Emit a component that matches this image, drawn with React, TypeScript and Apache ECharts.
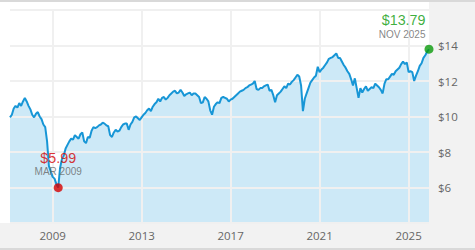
import React, { useEffect, useRef } from 'react';
import * as echarts from 'echarts';

// Monthly closing values, starting January 2007
const startYear = 2007;
const navValues: number[] = [
  // 2007
  9.95, 10.1, 10.45, 10.6, 10.5, 10.75, 10.6, 10.85, 11.05, 10.85, 10.6, 10.4,
  // 2008
  10.1, 9.95, 10.15, 10.25, 10.0, 9.85, 9.55, 9.4, 8.6, 7.2, 6.9, 6.6,
  // 2009
  6.5, 6.2, 5.99, 7.1, 7.6, 7.8, 8.2, 8.4, 8.6, 8.75, 8.7, 8.95,
  // 2010
  8.85, 8.75, 9.0, 9.1, 8.6, 8.5, 8.85, 8.8, 9.2, 9.4, 9.35, 9.4,
  // 2011
  9.5, 9.55, 9.65, 9.6, 9.5, 9.45, 8.95, 8.85, 9.1, 9.25, 9.15, 9.2,
  // 2012
  9.4, 9.55, 9.6, 9.6, 9.25, 9.55, 9.7, 9.95, 10.0, 9.9, 9.8, 9.95,
  // 2013
  10.1, 10.2, 10.35, 10.45, 10.3, 10.55, 10.7, 10.8, 11.0, 10.85, 11.05, 11.1,
  // 2014
  10.95, 11.05, 11.2, 11.3, 11.4, 11.45, 11.3, 11.35, 11.5, 11.35, 11.15, 11.25,
  // 2015
  11.3, 11.35, 11.2, 11.3, 11.3, 11.2, 11.1, 10.75, 10.8, 11.1, 11.0, 10.85,
  // 2016
  10.35, 10.1, 10.55, 10.7, 10.8, 10.75, 11.05, 11.1, 11.05, 11.0, 10.85, 10.95,
  // 2017
  11.0, 11.1, 11.2, 11.3, 11.4, 11.45, 11.5, 11.6, 11.65, 11.75, 11.8, 11.85,
  // 2018
  12.0, 11.55, 11.5, 11.6, 11.6, 11.7, 11.75, 11.8, 11.45, 11.5, 11.2, 10.8,
  // 2019
  11.2, 11.3, 11.4, 11.55, 11.7, 11.6, 11.85, 11.8, 11.95, 12.05, 12.2, 12.35,
  // 2020
  12.25, 11.75, 10.3, 11.0, 11.3, 11.6, 11.9, 12.05, 12.2, 12.3, 12.8, 12.5,
  // 2021
  12.65, 12.75, 12.9, 13.05, 13.25, 13.3, 13.35, 13.45, 13.55, 13.3, 13.3, 13.1,
  // 2022
  12.9, 12.75, 12.55, 12.4, 12.1, 11.75, 12.15, 11.6, 11.05, 11.6, 11.35, 11.55,
  // 2023
  11.7, 11.45, 11.55, 11.65, 11.6, 11.85, 11.75, 11.65, 11.5, 11.3, 11.85, 12.1,
  // 2024
  12.1, 12.25, 12.4, 12.35, 12.55, 12.65, 12.75, 12.95, 13.1, 12.95, 13.05, 12.5,
  // 2025
  12.55, 12.5, 12.0, 12.3, 12.55, 12.85, 13.0, 13.3, 13.45, 13.65, 13.79,
];

const yearTicks = [2009, 2013, 2017, 2021, 2025];
const priceMin = 4;
const priceMax = 16;
const priceStep = 2;
const monthNames = ['JAN', 'FEB', 'MAR', 'APR', 'MAY', 'JUN', 'JUL', 'AUG', 'SEP', 'OCT', 'NOV', 'DEC'];

const FONT = '"Open Sans", "Noto Sans", sans-serif';
const LABEL_FONT = '"Liberation Sans", Arial, sans-serif';

const xOf = (i: number) => startYear + (i + 1) / 12;
const dateLabel = (i: number) => `${monthNames[i % 12]} ${startYear + Math.floor(i / 12)}`;

export default function App() {
  const ref = useRef<HTMLDivElement>(null);

  useEffect(() => {
    document.body.style.margin = '0';
    const chart = echarts.init(ref.current!, null, { renderer: 'svg' });

    const seriesData = navValues.map((v, i) => [xOf(i), v]);
    const minVal = Math.min(...navValues);
    const minIdx = navValues.indexOf(minVal);
    const lastIdx = navValues.length - 1;

    const pointLabel = (i: number, color: string) => ({
      show: true,
      position: 'top',
      formatter: `{v|$${navValues[i].toFixed(2)}}\n{d|${dateLabel(i)}}`,
      rich: {
        v: { color, fontSize: 14.3, lineHeight: 15, fontFamily: LABEL_FONT },
        d: { color: '#666', fontSize: 10, lineHeight: 13, fontFamily: LABEL_FONT },
      },
    });

    const option: any = {
      animation: false,
      backgroundColor: '#f2f2f2',
      textStyle: { fontFamily: FONT },
      graphic: [
        { type: 'rect', z: -10, shape: { x: 0, y: 2, width: 429, height: 221 }, style: { fill: '#ffffff' } },
        { type: 'rect', z: -10, shape: { x: 0, y: 0, width: 475, height: 2 }, style: { fill: '#d9d9d9' } },
        { type: 'rect', z: -10, shape: { x: 0, y: 248, width: 475, height: 2 }, style: { fill: '#d9d9d9' } },
      ],
      grid: { left: 10, right: 46, top: 10, bottom: 27 },
      xAxis: {
        type: 'value',
        min: xOf(0),
        max: xOf(lastIdx),
        z: 3,
        axisLine: { show: false },
        axisTick: { show: false, customValues: yearTicks },
        axisLabel: {
          customValues: yearTicks,
          formatter: (v: number) => String(Math.round(v)),
          color: '#666',
          fontSize: 11.5,
          fontFamily: FONT,
          margin: 6,
        },
        splitLine: { show: true, lineStyle: { color: '#f0f0f0', width: 2 } },
      },
      yAxis: {
        type: 'value',
        position: 'right',
        min: priceMin,
        max: priceMax,
        interval: priceStep,
        z: 3,
        axisLine: { show: false },
        axisTick: { show: false },
        axisLabel: {
          formatter: '${value}',
          color: '#666',
          fontSize: 11.5,
          fontFamily: FONT,
          margin: 9,
          showMinLabel: false,
          showMaxLabel: false,
        },
        splitLine: { show: true, lineStyle: { color: '#f0f0f0', width: 2 } },
      },
      series: [
        {
          type: 'line',
          data: seriesData,
          showSymbol: false,
          silent: true,
          z: 1,
          lineStyle: { width: 0, opacity: 0 },
          areaStyle: { color: '#cde9f7', opacity: 1 },
        },
        {
          type: 'line',
          data: seriesData,
          showSymbol: false,
          z: 5,
          lineStyle: { color: '#1796d6', width: 2 },
        },
        {
          type: 'scatter',
          z: 6,
          symbolSize: 9,
          data: [
            {
              value: [xOf(minIdx), navValues[minIdx]],
              itemStyle: { color: '#d40000' },
              label: { ...pointLabel(minIdx, '#d40000'), distance: 5 },
            },
            {
              value: [xOf(lastIdx), navValues[lastIdx]],
              itemStyle: { color: '#0a9a0a' },
              label: { ...pointLabel(lastIdx, '#0a9a0a'), distance: 4, align: 'right', offset: [-3.5, 0] },
            },
          ],
        },
      ],
    };

    chart.setOption(option);
    return () => chart.dispose();
  }, []);

  return <div ref={ref} style={{ width: 475, height: 250 }} />;
}
